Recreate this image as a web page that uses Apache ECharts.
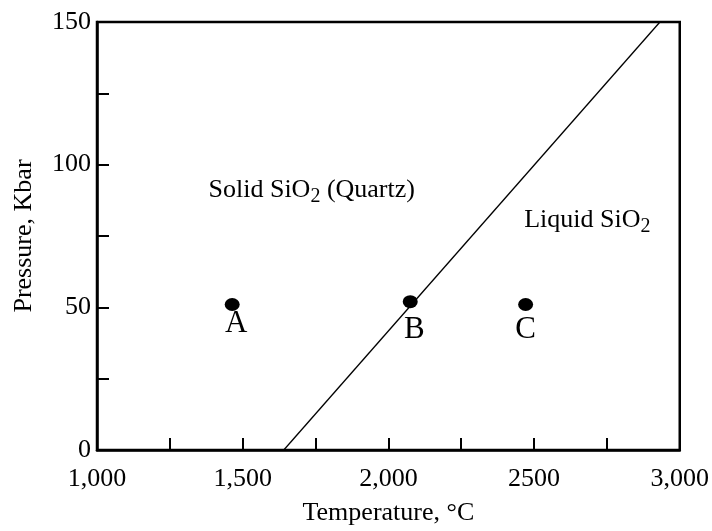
<!DOCTYPE html>
<html>
<head>
<meta charset="utf-8">
<script src="https://cdn.jsdelivr.net/npm/echarts@6/dist/echarts.min.js"></script>
<style>html,body{margin:0;padding:0;background:#fff}#c{width:712px;height:531px}</style>
</head>
<body>
<div id="c"></div>
<script>
// ---- data ----
const pointNames = ['A', 'B', 'C'];
const pointTemps = [1464, 2075, 2471];
const pointPress = [51, 52, 51];
const boundaryTemps = [1641, 2932];
const boundaryPress = [0, 150];
const xTickLabels = {1000: '1,000', 1500: '1,500', 2000: '2,000', 2500: '2500', 3000: '3,000'};
const yTickLabels = {0: '0', 50: '50', 100: '100', 150: '150'};
const regionNames = ['solid', 'liquid'];
const regionTemps = [1737, 2683];
const regionPress = [91, 80.4];

// ---- presentation ----
const FONT = 'Liberation Serif';
const labelOffsets = {A: [4, 19], B: [4, 28], C: [0, 25]};
const regionText = {
  solid: 'Solid SiO{s|2} (Quartz)',
  liquid: 'Liquid SiO{s|2}'
};

const chart = echarts.init(document.getElementById('c'), null, {renderer: 'canvas'});

const pts = pointNames.map((n, i) => ({
  value: [pointTemps[i], pointPress[i]],
  name: n,
  label: {show: true, position: 'inside', offset: labelOffsets[n], formatter: n,
          fontFamily: FONT, fontSize: 31, color: '#000', opacity: 1}
}));

const regions = regionNames.map((n, i) => ({
  value: [regionTemps[i], regionPress[i]],
  label: {show: true, position: 'inside', formatter: regionText[n],
          fontFamily: FONT, fontSize: 26, color: '#000', opacity: 1,
          rich: {s: {fontFamily: FONT, fontSize: 20, color: '#000', padding: [12, 0, 0, 0]}}}
}));

chart.setOption({
  animation: false,
  grid: {left: 97, right: 29, top: 22, bottom: 80, show: true,
         borderColor: '#000', borderWidth: 2.5, backgroundColor: 'transparent'},
  xAxis: {
    type: 'value', min: 1000, max: 3000, interval: 500,
    name: 'Temperature, °C', nameLocation: 'middle', nameGap: 50,
    nameTextStyle: {fontFamily: FONT, fontSize: 26, color: '#000'},
    axisLine: {show: true, lineStyle: {color: '#000', width: 2.5}},
    axisTick: {show: true, inside: true, length: 12, lineStyle: {color: '#000', width: 2}},
    minorTick: {show: true, splitNumber: 2, length: 12, lineStyle: {color: '#000', width: 2}},
    splitLine: {show: false},
    axisLabel: {fontFamily: FONT, fontSize: 26, color: '#000', margin: 16,
                formatter: v => xTickLabels[v] || ''}
  },
  yAxis: {
    type: 'value', min: 0, max: 150, interval: 50,
    name: 'Pressure, Kbar', nameLocation: 'middle', nameGap: 60,
    nameTextStyle: {fontFamily: FONT, fontSize: 26, color: '#000'},
    axisLine: {show: true, lineStyle: {color: '#000', width: 2.5}},
    axisTick: {show: true, inside: true, length: 12, lineStyle: {color: '#000', width: 2}},
    minorTick: {show: true, splitNumber: 2, length: 12, lineStyle: {color: '#000', width: 2}},
    splitLine: {show: false},
    axisLabel: {fontFamily: FONT, fontSize: 26, color: '#000', margin: 6,
                formatter: v => yTickLabels[v] || ''}
  },
  series: [
    {
      type: 'line', data: boundaryTemps.map((t, i) => [t, boundaryPress[i]]),
      symbol: 'none', lineStyle: {color: '#000', width: 1.3}, z: 2
    },
    {
      type: 'scatter', data: pts, symbol: 'circle', symbolSize: [15, 13],
      itemStyle: {color: '#000', opacity: 1}, z: 3
    },
    {
      type: 'scatter', data: regions, symbolSize: 0,
      itemStyle: {color: '#000', opacity: 1}, z: 4
    }
  ]
});
</script>
</body>
</html>
